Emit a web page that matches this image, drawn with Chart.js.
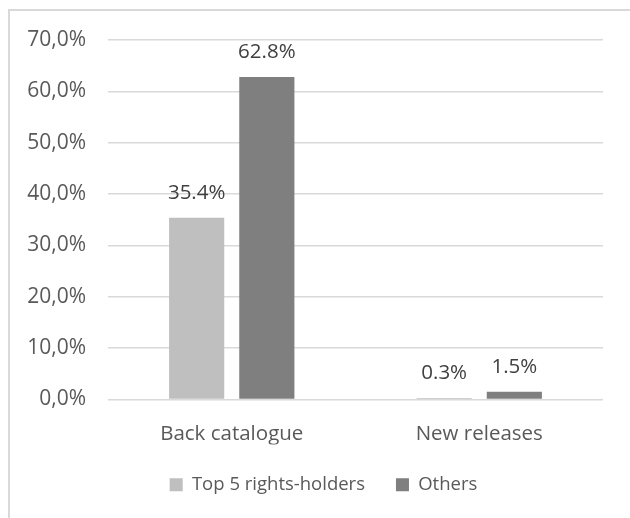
<!DOCTYPE html>
<html>
<head>
<meta charset="utf-8">
<script src="https://cdn.jsdelivr.net/npm/chart.js@4.4.1/dist/chart.umd.min.js"></script>
<style>
  html, body { margin: 0; padding: 0; background: #ffffff; overflow: hidden; }
  #frame { position: absolute; left: 8px; top: 9px; width: 700px; height: 600px;
           border: 2px solid #d9d9d9; box-sizing: border-box; }
  #wrap { position: absolute; left: 0; top: 0; width: 630px; height: 518px; }
</style>
</head>
<body>
<div id="frame"></div>
<div id="wrap"><canvas id="chart" width="630" height="518"></canvas></div>
<script>
// Share of streams by catalogue age, split between the top five rights-holders and everyone else
const categories = ['Back catalogue', 'New releases'];
const seriesNames = ['Top 5 rights-holders', 'Others'];
const top5Values = [35.4, 0.3];
const otherValues = [62.8, 1.5];
const yTickValues = [0, 10, 20, 30, 40, 50, 60, 70];

const FONT = '"Open Sans", "DejaVu Sans", sans-serif';
const TEXT_GREY = '#595959';

// Writes each bar's value just above it
const valueLabels = {
  id: 'valueLabels',
  afterDatasetsDraw(chart) {
    const ctx = chart.ctx;
    ctx.save();
    ctx.font = '20.5px ' + FONT;
    ctx.fillStyle = '#404040';
    ctx.textAlign = 'center';
    ctx.textBaseline = 'middle';
    chart.data.datasets.forEach((ds, i) => {
      chart.getDatasetMeta(i).data.forEach((bar, j) => {
        ctx.fillText(ds.data[j].toFixed(1) + '%', bar.x, bar.y - 25);
      });
    });
    ctx.restore();
  }
};

// Nudges the legend row a little to the right of the plot's centre
const legendShift = {
  id: 'legendShift',
  afterLayout(chart) {
    const lg = chart.legend;
    if (lg) { lg.left += 22; lg.right += 22; }
  }
};

new Chart(document.getElementById('chart'), {
  type: 'bar',
  data: {
    labels: categories,
    datasets: [
      { label: seriesNames[0], data: top5Values, backgroundColor: '#bfbfbf',
        barPercentage: 0.786, categoryPercentage: 0.567 },
      { label: seriesNames[1], data: otherValues, backgroundColor: '#7f7f7f',
        barPercentage: 0.786, categoryPercentage: 0.567 }
    ]
  },
  options: {
    responsive: false,
    animation: false,
    devicePixelRatio: 1,
    layout: { padding: { top: 40, right: 27, bottom: 14, left: 0 } },
    plugins: {
      tooltip: { enabled: false },
      legend: {
        position: 'bottom',
        labels: {
          boxWidth: 13, boxHeight: 13, padding: 31,
          color: TEXT_GREY,
          font: { family: FONT, size: 18.5 }
        }
      }
    },
    scales: {
      x: {
        grid: { display: false, drawTicks: false },
        border: { display: false },
        ticks: { color: TEXT_GREY, padding: 22, font: { family: FONT, size: 20.5 } },
        afterFit(scale) { scale.height = 45; }
      },
      y: {
        min: 0, max: 70,
        afterBuildTicks(scale) { scale.ticks = yTickValues.map(v => ({ value: v })); },
        grid: { color: '#d9d9d9', lineWidth: 1.5, drawTicks: false },
        border: { display: false },
        ticks: {
          color: TEXT_GREY, padding: 22,
          font: { family: FONT, size: 21 },
          callback: v => v.toFixed(1).replace('.', ',') + '%'
        },
        afterFit(scale) { scale.width = 108; }
      }
    }
  },
  plugins: [valueLabels, legendShift]
});
</script>
</body>
</html>
